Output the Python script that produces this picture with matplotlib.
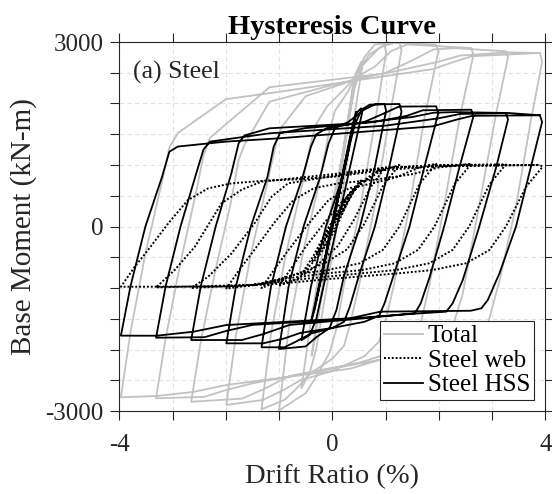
import matplotlib
matplotlib.use("Agg")
import matplotlib.pyplot as plt

plt.rcParams['font.family'] = ['Liberation Serif', 'DejaVu Serif']

# ---------------- data (drift %, base moment kN-m) ----------------
# Steel HSS: complete load path, branch by branch
hss_drift = [
    0, 0.2,                                   # U1
    -0.2,                                     # D1
    0.32,                                     # U2
    -0.3,                                     # D2
    0.38, 0.45,                               # U3
    -0.33, -0.39,                             # D3
    0.38, 0.46, 0.54,                         # U4
    0.56, -0.3, -0.42, -0.58,                 # D4
    -0.4, -0.12, 0.19, 0.32, 0.42, 0.55, 0.7, 0.98,                        # U5
    1.01, 0.8, 0.52, 0.22, 0.08, -0.05, -0.3, -0.5, -1.0,                  # D5
    -0.82, -0.54, -0.23, -0.07, 0.05, 0.3, 0.6, 0.8, 1.26,                 # U6
    1.3, 1.07, 0.8, 0.5, 0.33, 0.22, 0.0, -0.4, -0.7, -0.9, -1.33,         # D6
    -1.15, -0.87, -0.56, -0.4, -0.3, -0.1, 0.6, 1.0, 1.25, 1.95,           # U7
    1.99, 1.73, 1.45, 1.15, 0.98, 0.88, 0.6, 0.0, -0.6, -0.9, -1.3, -1.99, # D7
    -1.81, -1.53, -1.22, -1.1, -0.98, -0.5, 0.8, 1.4, 1.7, 2.61,           # U8
    2.65, 2.39, 2.1, 1.83, 1.66, 1.55, 1.2, 0.5, -0.8, -1.3, -1.7, -2.65,  # D8
    -2.47, -2.19, -1.9, -1.76, -1.65, -1.18, 0.5, 1.5, 1.9, 2.3, 3.26,     # U9
    3.3, 3.08, 2.76, 2.45, 2.26, 2.14, 1.5, 0.0, -1.5, -2.0, -2.4, -3.31,  # D9
    -3.13, -2.85, -2.56, -2.42, -2.3, -1.18, 1.0, 2.0, 2.4, 3.3, 3.9,      # U10
    3.94, 3.73, 3.45, 3.14, 2.92, 2.8, 2.6, 0.9, 0.33, -1.99, -2.61, -3.3, -3.97,  # D10
    -3.79, -3.51, -3.2, -3.06, -2.9, -2.0, -1.0, 1.89, 2.33, 2.63, 3.9,    # U11
]
hss_moment = [
    0, 850,
    -800,
    1300,
    -1200,
    1650, 1866,
    -1350, -1520,
    1600, 1850, 1922,
    1850, -1500, -1760, -1850,
    -972, 0, 800, 1300, 1650, 1900, 1980, 1992,
    1880, 972, 0, -800, -1350, -1650, -1800, -1950, -1992,
    -972, 0, 800, 1350, 1600, 1700, 1900, 1985, 1992,
    1870, 972, 0, -800, -1300, -1550, -1650, -1740, -1880, -1964, -1964,
    -972, 0, 800, 1300, 1500, 1600, 1700, 1850, 1950, 1954,
    1840, 972, 0, -800, -1250, -1450, -1550, -1650, -1730, -1820, -1900, -1900,
    -972, 0, 800, 1300, 1520, 1600, 1700, 1800, 1890, 1899,
    1790, 972, 0, -816, -1250, -1411, -1440, -1500, -1600, -1750, -1846, -1846,
    -972, 0, 850, 1350, 1480, 1597, 1680, 1780, 1850, 1860, 1846,
    1740, 972, 0, -870, -1250, -1385, -1420, -1520, -1600, -1700, -1800, -1808,
    -972, 0, 850, 1250, 1380, 1515, 1640, 1760, 1830, 1846, 1808,
    1700, 972, 0, -760, -1195, -1330, -1370, -1385, -1493, -1602, -1711, -1776, -1775,
    -972, 0, 800, 1216, 1300, 1380, 1434, 1629, 1737, 1800, 1808,
]

# Steel web
web_drift = [
    0, 0.2,
    -0.2,
    0.32,
    -0.3,
    0.0, 0.25, 0.45,
    0.2, -0.1, -0.39,
    -0.15, 0.1, 0.3, 0.54,
    0.3, 0.05, -0.25, -0.58,
    -0.35, -0.1, 0.2, 0.5, 0.75, 0.98,
    0.72, 0.4, 0.1, -0.3, -0.65, -1.0,
    -0.74, -0.5, -0.15, 0.2, 0.55, 0.9, 1.26,
    0.96, 0.6, 0.28, -0.15, -0.7, -1.33,
    -1.07, -0.82, -0.44, -0.07, 0.31, 0.75, 1.2, 1.6, 1.95,
    1.64, 1.26, 0.95, 0.51, -0.1, -0.7, -1.3, -1.99,
    -1.73, -1.48, -1.1, -0.73, -0.35, 0.1, 0.8, 1.5, 2.0, 2.61,
    2.3, 1.92, 1.61, 1.17, 0.55, -0.1, -0.9, -1.5, -2.65,
    -2.33, -1.89, -1.46, -1.14, -0.83, 0.0, 1.0, 2.0, 3.26,
    2.95, 2.57, 2.26, 1.82, 1.2, 0.56, -0.5, -1.5, -3.31,
    -2.96, -2.58, -2.08, -1.7, -1.33, 0.0, 1.0, 2.0, 3.9,
    3.95, 3.64, 3.26, 2.95, 2.51, 1.89, 1.26, 0.0, -1.0, -1.9, -3.97,
    -3.71, -3.46, -3.08, -2.71, -2.33, -1.89, -1.27, -0.65, 0.04, 1.0, 2.0, 3.9,
]
web_moment = [
    0, 300,
    -300,
    480,
    -450,
    80, 450, 650,
    250, -250, -580,
    -250, 200, 520, 750,
    420, -60, -480, -780,
    -470, -60, 370, 680, 850, 950,
    640, 100, -320, -640, -850, -960,
    -640, -330, 60, 420, 700, 900, 1000,
    675, 40, -370, -600, -780, -1000,
    -675, -380, 50, 430, 620, 700, 800, 950, 1020,
    695, 0, -380, -600, -710, -780, -930, -1010,
    -685, -400, 50, 430, 620, 700, 760, 850, 960, 1020,
    695, 0, -380, -600, -710, -760, -850, -950, -1000,
    -816, -436, 52, 485, 702, 820, 950, 1000, 1010,
    685, 0, -380, -598, -707, -760, -850, -950, -990,
    -707, -328, 377, 600, 729, 850, 960, 990, 1000,
    972, 647, 0, -382, -598, -707, -760, -850, -930, -975, -980,
    -654, -382, 52, 431, 621, 702, 745, 768, 810, 920, 980, 1000,
]

# Total
total_drift = [
    0, 0.2,
    -0.2,
    0.32,
    -0.3,
    0.38, 0.45,
    0.2, -0.33, -0.39,
    0.1, 0.38, 0.46, 0.54,
    0.56, 0.05, -0.3, -0.42, -0.58,
    -0.4, -0.12, 0.19, 0.32, 0.42, 0.55, 0.7, 0.98,
    1.01, 0.8, 0.52, 0.22, 0.08, -0.05, -0.3, -0.5, -1.0,
    -0.82, -0.54, -0.23, -0.07, 0.05, 0.3, 0.6, 0.8, 1.26,
    1.3, 1.07, 0.8, 0.5, 0.33, 0.22, 0.0, -0.4, -0.7, -0.9, -1.33,
    -1.15, -0.87, -0.56, -0.4, -0.3, -0.1, 0.3, 0.6, 0.9, 1.2, 1.95,
    1.99, 1.73, 1.45, 1.15, 0.98, 0.88, 0.6, 0.0, -0.6, -0.9, -1.3, -1.99,
    -1.81, -1.53, -1.22, -1.05, -0.95, -0.5, 0.3, 0.8, 1.1, 1.4, 2.61,
    2.65, 2.39, 2.1, 1.83, 1.66, 1.55, 1.2, 0.5, -0.8, -1.3, -1.7, -2.65,
    -2.47, -2.19, -1.9, -1.76, -1.65, -1.18, 0.0, 1.0, 1.5, 1.9, 2.3, 3.26,
    3.3, 3.08, 2.76, 2.45, 2.26, 2.14, 1.5, 0.0, -1.5, -2.0, -2.4, -3.31,
    -3.13, -2.85, -2.56, -2.42, -2.3, -1.18, 1.0, 2.0, 2.4, 3.3, 3.9,
    3.94, 3.73, 3.45, 3.14, 2.92, 2.8, 2.6, 0.9, 0.33, -1.99, -2.61, -3.3, -3.97,
    -3.79, -3.51, -3.2, -3.06, -2.9, -2.0, -1.0, 1.89, 2.33, 2.63, 3.9,
]
total_moment = [
    0, 1150,
    -1100,
    1780,
    -1650,
    2250, 2500,
    1108, -1850, -2100,
    655, 2200, 2530, 2670,
    2590, -200, -1980, -2360, -2630,
    -1520, -100, 1160, 1800, 2250, 2620, 2800, 2950,
    2830, 1690, 280, -950, -1650, -2050, -2440, -2710, -2990,
    -1670, -380, 770, 1500, 1880, 2200, 2750, 2960, 2995,
    2870, 1760, 350, -970, -1600, -1940, -2150, -2380, -2660, -2820, -2972,
    -1740, -440, 700, 1370, 1670, 1950, 2300, 2650, 2920, 2990, 2956,
    2840, 1760, 330, -980, -1600, -1870, -2110, -2350, -2500, -2650, -2820, -2902,
    -1770, -450, 710, 1370, 1620, 2120, 2350, 2600, 2850, 2960, 2902,
    2790, 1760, 340, -930, -1570, -1810, -2030, -2215, -2430, -2650, -2800, -2849,
    -1870, -690, 410, 1080, 1330, 2030, 2300, 2500, 2700, 2880, 2900, 2849,
    2750, 1850, 350, -1090, -1630, -1835, -2070, -2310, -2550, -2660, -2770, -2794,
    -1820, -580, 550, 1150, 1440, 2265, 2490, 2680, 2780, 2831, 2821,
    2675, 1730, 330, -880, -1585, -1780, -1930, -2165, -2313, -2577, -2690, -2756, -2777,
    -1720, -440, 720, 1286, 1520, 2070, 2190, 2560, 2690, 2770, 2821,
]

series_labels = ["Total", "Steel web", "Steel HSS"]
x_ticks = [-4, -3, -2, -1, 0, 1, 2, 3, 4]
x_ticklabels = ["-4", "", "", "", "0", "", "", "", "4"]
y_ticks = [-3000, -2500, -2000, -1500, -1000, -500, 0, 500, 1000, 1500, 2000, 2500, 3000]
y_ticklabels = ["-3000", "", "", "", "", "", "0", "", "", "", "", "", "3000"]

# ---------------- figure ----------------
fig = plt.figure(figsize=(5.52, 4.94), dpi=100)
ax = fig.add_axes([119.3 / 552, 1 - 411 / 494, (545.3 - 119.3) / 552, (411 - 42) / 494])

ax.plot(total_drift, total_moment, color="#c2c2c2", lw=1.3, label=series_labels[0],
        solid_joinstyle="round", zorder=2)
ax.plot(web_drift, web_moment, color="black", lw=1.4, linestyle=(0, (1, 1)),
        label=series_labels[1], zorder=3)
ax.plot(hss_drift, hss_moment, color="black", lw=1.3, label=series_labels[2],
        solid_joinstyle="round", zorder=4)

ax.set_xlim(-4, 4)
ax.set_ylim(-3000, 3000)
ax.set_xticks(x_ticks)
ax.set_xticklabels(x_ticklabels)
ax.set_yticks(y_ticks)
ax.set_yticklabels(y_ticklabels)

ax.grid(True, color="#e2e2e2", linestyle=(0, (4, 3)), linewidth=0.8, zorder=0)
ax.set_axisbelow(True)
ax.tick_params(direction="out", length=6.5, width=0.8, colors="#262626",
               labelsize=18, top=True, right=True, pad=5)
ax.tick_params(axis="x", pad=10)
for s in ax.spines.values():
    s.set_color("#262626")
    s.set_linewidth(0.8)

ax.set_xlabel("Drift Ratio (%)", fontsize=20.5, color="#262626", labelpad=6)
ax.set_ylabel("Base Moment (kN-m)", fontsize=21, color="#262626", labelpad=6)
ax.set_title("Hysteresis Curve", fontsize=20.5, fontweight="bold", pad=6)

ax.text(0.032, 0.948, "(a) Steel", transform=ax.transAxes, fontsize=18.5,
        va="top", ha="left", color="#262626")

leg = ax.legend(loc="lower right", bbox_to_anchor=(0.9735, 0.0298), borderaxespad=0,
                fontsize=18, handlelength=1.55, handletextpad=0.2, labelspacing=0.08,
                borderpad=0.15, fancybox=False, framealpha=1, edgecolor="#262626")
leg.get_frame().set_linewidth(0.8)

fig.savefig("out.png", dpi=100)
